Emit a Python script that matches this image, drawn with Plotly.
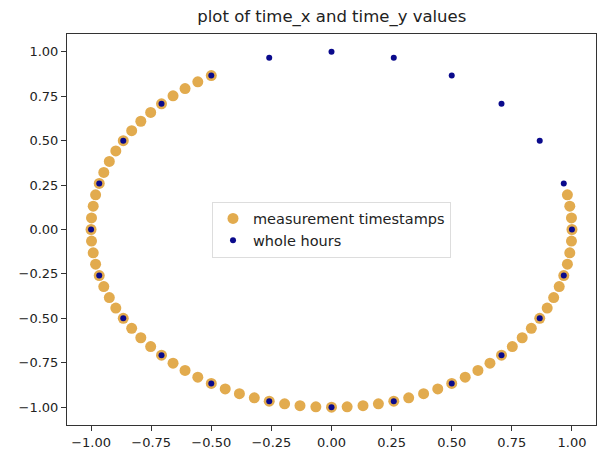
import plotly.graph_objects as go

meas_x = [-0.500, -0.556, -0.609, -0.659, -0.707, -0.752, -0.793, -0.831, -0.866, -0.897,
          -0.924, -0.947, -0.966, -0.981, -0.991, -0.998, -1.000, -0.998, -0.991, -0.981,
          -0.966, -0.947, -0.924, -0.897, -0.866, -0.831, -0.793, -0.752, -0.707, -0.659,
          -0.609, -0.556, -0.500, -0.442, -0.383, -0.321, -0.259, -0.195, -0.131, -0.065,
          0.000, 0.065, 0.131, 0.195, 0.259, 0.321, 0.383, 0.442, 0.500, 0.556,
          0.609, 0.659, 0.707, 0.752, 0.793, 0.831, 0.866, 0.897, 0.924, 0.947,
          0.966, 0.981, 0.991, 0.998, 1.000, 0.998, 0.991, 0.981]
meas_y = [0.866, 0.831, 0.793, 0.752, 0.707, 0.659, 0.609, 0.556, 0.500, 0.442,
          0.383, 0.321, 0.259, 0.195, 0.131, 0.065, 0.000, -0.065, -0.131, -0.195,
          -0.259, -0.321, -0.383, -0.442, -0.500, -0.556, -0.609, -0.659, -0.707, -0.752,
          -0.793, -0.831, -0.866, -0.897, -0.924, -0.947, -0.966, -0.981, -0.991, -0.998,
          -1.000, -0.998, -0.991, -0.981, -0.966, -0.947, -0.924, -0.897, -0.866, -0.831,
          -0.793, -0.752, -0.707, -0.659, -0.609, -0.556, -0.500, -0.442, -0.383, -0.321,
          -0.259, -0.195, -0.131, -0.065, 0.000, 0.065, 0.131, 0.195]

# whole hours
hour_x = [0.000, 0.259, 0.500, 0.707, 0.866, 0.966, 1.000, 0.966, 0.866, 0.707, 0.500, 0.259,
          0.000, -0.259, -0.500, -0.707, -0.866, -0.966, -1.000, -0.966, -0.866, -0.707, -0.500, -0.259]
hour_y = [1.000, 0.966, 0.866, 0.707, 0.500, 0.259, 0.000, -0.259, -0.500, -0.707, -0.866, -0.966,
          -1.000, -0.966, -0.866, -0.707, -0.500, -0.259, 0.000, 0.259, 0.500, 0.707, 0.866, 0.966]

tick_vals = [-1.00, -0.75, -0.50, -0.25, 0.00, 0.25, 0.50, 0.75, 1.00]

fig = go.Figure()
fig.add_trace(go.Scatter(x=meas_x, y=meas_y, mode="markers", name="measurement timestamps",
                         marker=dict(color="#E2AB4E", size=11, line=dict(width=0))))
fig.add_trace(go.Scatter(x=hour_x, y=hour_y, mode="markers", name="whole hours",
                         marker=dict(color="#0A0A8C", size=6, line=dict(width=0))))

axis_common = dict(
    showgrid=False, zeroline=False, showline=True, linecolor="#333333", linewidth=1,
    mirror=True, ticks="outside", ticklen=5, tickwidth=1, tickcolor="#333333",
    tickvals=tick_vals, tickformat=".2f",
    tickfont=dict(family="DejaVu Sans", size=13, color="#222222"),
)
fig.update_xaxes(range=[-1.1, 1.1], **axis_common)
fig.update_yaxes(range=[-1.1, 1.1], **axis_common)

fig.update_layout(
    width=600, height=453,
    margin=dict(l=67, r=3, t=34, b=23),
    paper_bgcolor="white", plot_bgcolor="white",
    title=dict(text="plot of time_x and time_y values", x=0.553, xanchor="center",
               y=0.965, yanchor="middle",
               font=dict(family="DejaVu Sans", size=16.5, color="#222222")),
    legend=dict(x=0.5, y=0.5, xanchor="center", yanchor="middle",
                bordercolor="#DDDDDD", borderwidth=1, bgcolor="white",
                font=dict(family="DejaVu Sans", size=14.5, color="#222222")),
    showlegend=True,
)

fig.write_html("out.html")
